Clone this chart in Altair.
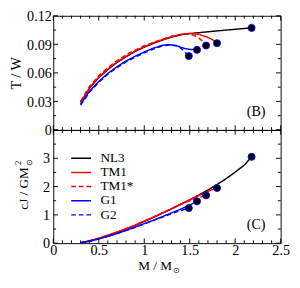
import altair as alt
import pandas as pd

names = ["NL3", "TM1", "TM1*", "G1", "G2"]
colors = ["black", "red", "red", "blue", "blue"]
dashes = [[1, 0], [1, 0], [5, 3], [1, 0], [5, 3]]

# Panel (B): T/W vs M
mB_nl3 = [0.30, 0.40, 0.50, 0.60, 0.70, 0.80, 0.90, 1.00, 1.10, 1.20, 1.30, 1.40, 1.50, 1.70, 1.90, 2.18]
tw_nl3 = [0.029, 0.044, 0.055, 0.0635, 0.071, 0.077, 0.0825, 0.087, 0.091, 0.0945, 0.0975, 0.1000, 0.1013, 0.1032, 0.1050, 0.1073]
mB_tm1 = [0.30, 0.40, 0.50, 0.60, 0.70, 0.80, 0.90, 1.00, 1.10, 1.20, 1.30, 1.40, 1.50, 1.60, 1.65, 1.70, 1.75, 1.80]
tw_tm1 = [0.029, 0.0445, 0.0555, 0.064, 0.0715, 0.0775, 0.083, 0.0875, 0.0915, 0.095, 0.098, 0.1005, 0.1015, 0.1005, 0.0990, 0.0972, 0.0950, 0.0912]
mB_tm1s = [0.30, 0.40, 0.50, 0.60, 0.70, 0.80, 0.90, 1.00, 1.10, 1.20, 1.30, 1.40, 1.50, 1.55, 1.60, 1.65, 1.68]
tw_tm1s = [0.030, 0.046, 0.057, 0.0655, 0.073, 0.079, 0.084, 0.0885, 0.092, 0.0955, 0.0985, 0.1005, 0.1005, 0.0993, 0.0965, 0.0930, 0.0888]
mB_g1 = [0.30, 0.40, 0.50, 0.60, 0.70, 0.80, 0.90, 1.00, 1.10, 1.20, 1.27, 1.35, 1.40, 1.45, 1.50, 1.58]
tw_g1 = [0.027, 0.041, 0.051, 0.0595, 0.0665, 0.0725, 0.0775, 0.082, 0.086, 0.0890, 0.0897, 0.0888, 0.0870, 0.0855, 0.0847, 0.0842]
mB_g2 = [0.30, 0.40, 0.50, 0.60, 0.70, 0.80, 0.90, 1.00, 1.10, 1.20, 1.27, 1.35, 1.40, 1.44, 1.49]
tw_g2 = [0.026, 0.040, 0.050, 0.0585, 0.0655, 0.0715, 0.0765, 0.081, 0.085, 0.0882, 0.0893, 0.0885, 0.0862, 0.0825, 0.0777]

# Panel (C): cJ/GM^2 vs M
mC_nl3 = [0.30, 0.40, 0.50, 0.60, 0.70, 0.80, 0.90, 1.00, 1.10, 1.20, 1.30, 1.40, 1.50, 1.60, 1.70, 1.80, 1.90, 2.00, 2.10, 2.18]
j_nl3 = [0.02, 0.08, 0.17, 0.27, 0.38, 0.50, 0.63, 0.77, 0.91, 1.06, 1.21, 1.37, 1.53, 1.70, 1.88, 2.07, 2.28, 2.51, 2.76, 3.05]
mC_tm1 = [0.30, 0.40, 0.50, 0.60, 0.70, 0.80, 0.90, 1.00, 1.10, 1.20, 1.30, 1.40, 1.50, 1.60, 1.70, 1.80]
j_tm1 = [0.02, 0.085, 0.175, 0.28, 0.39, 0.51, 0.64, 0.78, 0.92, 1.07, 1.22, 1.38, 1.53, 1.68, 1.83, 1.95]
mC_tm1s = [0.30, 0.40, 0.50, 0.60, 0.70, 0.80, 0.90, 1.00, 1.10, 1.20, 1.30, 1.40, 1.50, 1.60, 1.68]
j_tm1s = [0.02, 0.085, 0.175, 0.28, 0.39, 0.51, 0.64, 0.78, 0.92, 1.07, 1.22, 1.37, 1.50, 1.61, 1.69]
mC_g1 = [0.30, 0.40, 0.50, 0.60, 0.70, 0.80, 0.90, 1.00, 1.10, 1.20, 1.30, 1.40, 1.50, 1.58]
j_g1 = [0.01, 0.07, 0.15, 0.24, 0.34, 0.45, 0.57, 0.69, 0.81, 0.94, 1.07, 1.20, 1.35, 1.48]
mC_g2 = [0.30, 0.40, 0.50, 0.60, 0.70, 0.80, 0.90, 1.00, 1.10, 1.20, 1.30, 1.40, 1.49]
j_g2 = [0.01, 0.07, 0.15, 0.24, 0.34, 0.45, 0.56, 0.68, 0.80, 0.92, 1.04, 1.15, 1.24]

x_major = [0, 0.5, 1, 1.5, 2, 2.5]
x_minor = [0.1, 0.2, 0.3, 0.4, 0.6, 0.7, 0.8, 0.9, 1.1, 1.2, 1.3, 1.4,
           1.6, 1.7, 1.8, 1.9, 2.1, 2.2, 2.3, 2.4]
yB_major = [0, 0.03, 0.06, 0.09, 0.12]
yB_minor = [0.015, 0.045, 0.075, 0.105]
yC_major = [0, 1, 2, 3, 4]
yC_minor = [0.5, 1.5, 2.5, 3.5]
yC_labels = [0, 1, 2, 3]

FONT = "Liberation Serif"
W, H1, H2 = 241, 121, 120
MAJ, MIN = 5, 3

xscale = alt.Scale(domain=[0, 2.5], nice=False, zero=False)


def long_df(ms, vs):
    rows = []
    for name, M, V in zip(names, ms, vs):
        for i, (m, v) in enumerate(zip(M, V)):
            rows.append({"model": name, "M": m, "v": v, "i": i})
    return pd.DataFrame(rows)


def ends_df(ms, vs):
    return pd.DataFrame({"model": names, "M": [M[-1] for M in ms], "v": [V[-1] for V in vs]})


def panel(ms, vs, yscale, H, yaxis, xaxis, tag, ymaj, ymin):
    X = lambda f: alt.X(f, scale=xscale, axis=xaxis, title=None)
    Y = lambda f: alt.Y(f, scale=yscale, axis=yaxis)
    df = long_df(ms, vs)
    layers = []
    lines = alt.Chart(df).mark_line(strokeWidth=1.5).encode(
        x=X("M:Q"), y=Y("v:Q"),
        color=alt.Color("model:N", scale=alt.Scale(domain=names, range=colors), legend=None),
        strokeDash=alt.StrokeDash("model:N", scale=alt.Scale(domain=names, range=dashes), legend=None),
        order="i:Q",
    )
    layers.append(lines)
    for vals, L in ((x_major, MAJ), (x_minor, MIN)):
        d = pd.DataFrame({"M": vals})
        for y0, y1 in ((H, H - L), (0, L)):
            layers.append(alt.Chart(d).mark_rule(color="black", strokeWidth=1).encode(
                x=X("M:Q"), y=alt.value(y0), y2=alt.value(y1)))
    for vals, L in ((ymaj, MAJ), (ymin, MIN)):
        d = pd.DataFrame({"v": vals})
        for x0, x1 in ((0, L), (W, W - L)):
            layers.append(alt.Chart(d).mark_rule(color="black", strokeWidth=1).encode(
                y=Y("v:Q"), x=alt.value(x0), x2=alt.value(x1)))
    dots = alt.Chart(ends_df(ms, vs)).mark_circle(size=55, color="black", opacity=1,
                                                  stroke="blue", strokeWidth=1).encode(
        x=X("M:Q"), y=Y("v:Q"))
    layers.append(dots)
    label = alt.Chart(pd.DataFrame({"t": [tag]})).mark_text(
        font=FONT, fontSize=15, align="center", baseline="middle", color="black").encode(
        text="t:N", x=alt.value(W - 26), y=alt.value(H - 20))
    layers.append(label)
    return layers


ysB = alt.Scale(domain=[0, 0.12], nice=False, zero=False)
ysC = alt.Scale(domain=[0, 4], nice=False, zero=False)

yaxisB = alt.Axis(values=yB_major, ticks=False, domain=False, grid=False,
                  labelExpr="datum.value == 0 ? '0' : format(datum.value, '.2f')",
                  labelFont=FONT, labelFontSize=15, labelColor="black", labelPadding=2,
                  title="T / W", titleFont=FONT, titleFontSize=15, titleFontWeight="normal",
                  titleColor="black", titlePadding=4)
top_layers = panel([mB_nl3, mB_tm1, mB_tm1s, mB_g1, mB_g2],
                   [tw_nl3, tw_tm1, tw_tm1s, tw_g1, tw_g2],
                   ysB, H1, yaxisB, None, "(B)", yB_major, yB_minor)
top = alt.layer(*top_layers).properties(width=W, height=H1)

yaxisC = alt.Axis(values=yC_labels, ticks=False, domain=False, grid=False, format="d",
                  labelFont=FONT, labelFontSize=15, labelColor="black", labelPadding=4,
                  title=None)
xaxisC = alt.Axis(values=x_major, ticks=False, domain=False, grid=False, format="~g",
                  labelFont=FONT, labelFontSize=15, labelColor="black", labelPadding=0,
                  labelFlush=False, labelOverlap=False, title=None)
bot_layers = panel([mC_nl3, mC_tm1, mC_tm1s, mC_g1, mC_g2],
                   [j_nl3, j_tm1, j_tm1s, j_g1, j_g2],
                   ysC, H2, yaxisC, xaxisC, "(C)", yC_major, yC_minor)

# legend
leg_y = [30, 45, 60, 75, 90]
for name, col, dash, ly in zip(names, colors, dashes, leg_y):
    d = pd.DataFrame({"t": [name]})
    bot_layers.append(alt.Chart(d).mark_rule(color=col, strokeDash=dash, strokeWidth=1.5).encode(
        x=alt.value(19), x2=alt.value(40), y=alt.value(ly)))
    bot_layers.append(alt.Chart(d).mark_text(font=FONT, fontSize=14, align="left",
                                             baseline="middle", color="black").encode(
        text="t:N", x=alt.value(50), y=alt.value(ly)))


def txt(s, x, y, size, angle=0, align="center"):
    kw = dict(font=FONT, fontSize=size, align=align, baseline="middle", color="black")
    if angle:
        kw["angle"] = angle
    return alt.Chart(pd.DataFrame({"t": [s]})).mark_text(**kw).encode(
        text="t:N", x=alt.value(x), y=alt.value(y))


# y title for (C)
bot_layers.append(txt("cJ / GM", -31, 62, 14, angle=270))
bot_layers.append(txt("2", -37, 35, 9, angle=270))
bot_layers.append(txt("\u2299", -26, 35, 9, angle=270))
# x title
bot_layers.append(txt("M / M", 108, H2 + 24, 14))
bot_layers.append(txt("\u2299", 131, H2 + 29, 9))

bottom = alt.layer(*bot_layers).properties(width=W, height=H2)

chart = alt.vconcat(top, bottom, spacing=0, bounds="flush").properties(
    padding={"left": 0, "top": -8, "right": 2, "bottom": 0}
).configure_view(stroke="black", strokeWidth=1).configure_axis(grid=False)

chart.save("out.html", embed_options={"renderer": "svg", "actions": False})
